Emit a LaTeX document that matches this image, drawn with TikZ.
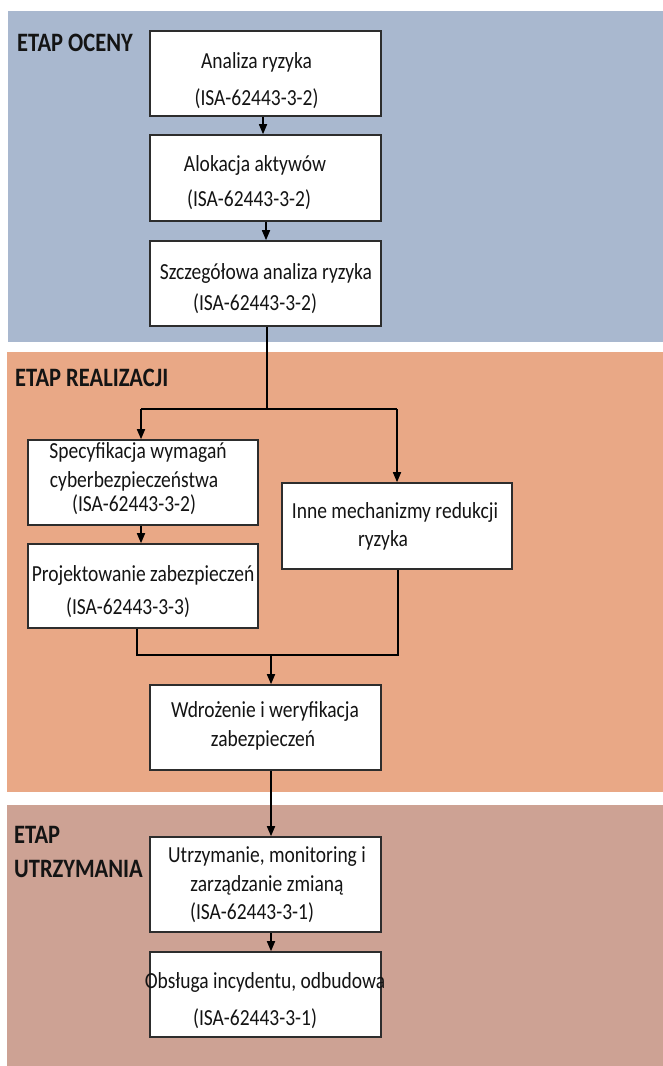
\documentclass[tikz,border=0pt]{standalone}
\usepackage{fontspec}
\setmainfont{Carlito}
\usetikzlibrary{arrows.meta}
\definecolor{panelblue}{RGB}{169,184,207}
\definecolor{panelorange}{RGB}{233,168,134}
\definecolor{panelbrown}{RGB}{205,162,148}
\definecolor{boxline}{RGB}{45,45,45}
\definecolor{ink}{RGB}{20,20,20}
% slightly tall lettering
\newcommand{\tall}[1]{\scalebox{1}[1.18]{#1}}
\begin{document}
\begin{tikzpicture}[x=1pt,y=-1pt,
  box/.style={draw=boxline, line width=1.6pt, fill=white, rectangle, inner sep=0pt},
  txt/.style={font=\fontsize{19.5}{23}\selectfont, text=ink, inner sep=0pt},
  stage/.style={font=\fontsize{22.5}{27}\selectfont\bfseries, text=ink, anchor=west, inner sep=0pt},
  arr/.style={line width=1.6pt, draw=black, -{Triangle[length=10pt,width=8pt]}},
  link/.style={line width=1.6pt, draw=black}]
\useasboundingbox (0,0) rectangle (663,1066);
\fill[white] (0,0) rectangle (663,1066);

% stage panels
\fill[panelblue]   (8,11)  rectangle (663,342);
\fill[panelorange] (7,352) rectangle (663,792);
\fill[panelbrown]  (7,805) rectangle (663,1066);

\node[stage] (s1) at (17,43) {\tall{ETAP OCENY}};
\node[stage] (s2) at (15,378) {\tall{ETAP REALIZACJI}};
\node[stage] (s3a) at (14,835) {\tall{ETAP}};
\node[stage] (s3b) at (14,869) {\tall{UTRZYMANIA}};

% process boxes
\node[box, minimum width=231, minimum height=85] (b1) at (265.5,73.5) {};
\node[box, minimum width=231, minimum height=86] (b2) at (265.5,178) {};
\node[box, minimum width=231, minimum height=85] (b3) at (265.5,283.5) {};
\node[box, minimum width=230, minimum height=85] (b4) at (143,482.5) {};
\node[box, minimum width=230, minimum height=84] (b5) at (143,586) {};
\node[box, minimum width=230, minimum height=86] (b6) at (397,526) {};
\node[box, minimum width=231, minimum height=85] (b7) at (265.5,727.5) {};
\node[box, minimum width=231, minimum height=95] (b8) at (265.5,884.5) {};
\node[box, minimum width=231, minimum height=85] (b9) at (265.5,994.5) {};

% box texts
\node[txt] (t1a) at (256.5,62) {\tall{Analiza ryzyka}};
\node[txt] (t1b) at (256.5,99) {\tall{(ISA-62443-3-2)}};
\node[txt] (t2a) at (255,165) {\tall{Alokacja aktywów}};
\node[txt] (t2b) at (249,200) {\tall{(ISA-62443-3-2)}};
\node[txt] (t3a) at (266,273) {\tall{Szczegółowa analiza ryzyka}};
\node[txt] (t3b) at (255,304) {\tall{(ISA-62443-3-2)}};
\node[txt] (t4a) at (138,452) {\tall{Specyfikacja wymagań}};
\node[txt] (t4b) at (134,481) {\tall{cyberbezpieczeństwa}};
\node[txt] (t4c) at (134,505) {\tall{(ISA-62443-3-2)}};
\node[txt] (t5a) at (143,575) {\tall{Projektowanie zabezpieczeń}};
\node[txt] (t5b) at (128,608) {\tall{(ISA-62443-3-3)}};
\node[txt] (t6a) at (395,512) {\tall{Inne mechanizmy redukcji}};
\node[txt] (t6b) at (383,540) {\tall{ryzyka}};
\node[txt] (t7a) at (265,711) {\tall{Wdrożenie i weryfikacja}};
\node[txt] (t7b) at (263,740) {\tall{zabezpieczeń}};
\node[txt] (t8a) at (267,857) {\tall{Utrzymanie, monitoring i}};
\node[txt] (t8b) at (267,885) {\tall{zarządzanie zmianą}};
\node[txt] (t8c) at (252,913) {\tall{(ISA-62443-3-1)}};
\node[txt] (t9a) at (265,982) {\tall{Obsługa incydentu, odbudowa}};
\node[txt] (t9b) at (255,1019) {\tall{(ISA-62443-3-1)}};

% branching and merging points
\coordinate (c12) at (263,0);
\coordinate (c23) at (266,0);
\coordinate (split) at (267,409);
\coordinate (splitL) at (141,409);
\coordinate (splitR) at (397,409);
\coordinate (mergeL) at (137,655);
\coordinate (mergeR) at (398,655);
\coordinate (merge) at (271,655);

% connectors
\draw[arr] (b1.south -| c12) -- (b2.north -| c12);
\draw[arr] (b2.south -| c23) -- (b3.north -| c23);
\draw[link] (b3.south -| split) -- (split);
\draw[link] (splitL) -- (splitR);
\draw[arr] (splitL) -- (b4.north -| splitL);
\draw[arr] (splitR) -- (b6.north -| splitR);
\draw[arr] (b4.south -| splitL) -- (b5.north -| splitL);
\draw[link] (b5.south -| mergeL) -- (mergeL) -- (mergeR) -- (b6.south -| mergeR);
\draw[arr] (merge) -- (b7.north -| merge);
\draw[arr] (b7.south -| merge) -- (b8.north -| merge);
\draw[arr] (b8.south -| merge) -- (b9.north -| merge);
\end{tikzpicture}
\end{document}
